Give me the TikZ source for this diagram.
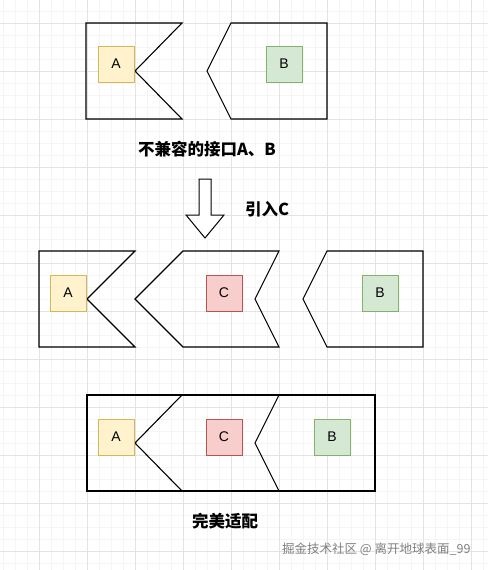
\documentclass[tikz,border=0pt]{standalone}
\usepackage{fontspec}
\setmainfont{Liberation Sans}
\newfontfamily\cjk{Noto Sans CJK SC}
\begin{document}
\begin{tikzpicture}[x=1pt,y=-1pt,
  shapeline/.style={draw=black,line width=1.1pt,line join=miter},
  sq/.style={minimum width=36pt,minimum height=36pt,inner sep=0pt,line width=0.9pt,font=\fontsize{14}{14}\selectfont},
  boxA/.style={sq,fill={rgb,255:red,255;green,242;blue,204},draw={rgb,255:red,214;green,182;blue,86}},
  boxB/.style={sq,fill={rgb,255:red,213;green,232;blue,212},draw={rgb,255:red,130;green,179;blue,102}},
  boxC/.style={sq,fill={rgb,255:red,248;green,206;blue,204},draw={rgb,255:red,184;green,84;blue,80}},
  title/.style={font=\cjk\bfseries\fontsize{16.5}{16.5}\selectfont},
  mark99/.style={font=\cjk\fontsize{12.5}{12.5}\selectfont,text={rgb,255:red,128;green,128;blue,128}}]
\useasboundingbox (0,0) rectangle (488,570);
\fill[white] (0,0) rectangle (488,570);
% grid
\foreach \x in {3,15,...,488} \draw[line width=0.5pt,color=black!4] (\x,0) -- (\x,570);
\foreach \y in {11,23,...,570} \draw[line width=0.5pt,color=black!4] (0,\y) -- (488,\y);
\foreach \x in {39,87,...,488} \draw[line width=0.8pt,color=black!11] (\x,0) -- (\x,570);
\foreach \y in {23,71,...,570} \draw[line width=0.8pt,color=black!11] (0,\y) -- (488,\y);

% top row
\draw[shapeline] (86,23) -- (182,23) -- (135,71) -- (182,119) -- (86,119) -- cycle;
\draw[shapeline] (231,23) -- (327,23) -- (327,119) -- (231,119) -- (207,71) -- cycle;
\node[boxA] (a1) at (116,64) {A};
\node[boxB] (b1) at (284,64) {B};
\node[title] (t1) at (207,149) {不兼容的接口A、B};

% arrow
\draw[line width=1pt,fill=white] (199,179) -- (211,179) -- (211,215) -- (224,215) -- (205,238) -- (186,215) -- (199,215) -- cycle;
\node[title] (t2) at (267,209) {引入C};

% middle row
\draw[shapeline] (39,251) -- (135,251) -- (87,299) -- (135,347) -- (39,347) -- cycle;
\draw[shapeline] (135,299) -- (183,251) -- (279,251) -- (255,299) -- (279,347) -- (183,347) -- cycle;
\draw[shapeline] (327,251) -- (423,251) -- (423,347) -- (327,347) -- (303,299) -- cycle;
\node[boxA] (a2) at (68,293) {A};
\node[boxC] (c2) at (224,293) {C};
\node[boxB] (b2) at (380,293) {B};

% bottom row
\draw[shapeline] (87,395) rectangle (375,491);
\draw[shapeline] (182,395) -- (135,443) -- (182,491);
\draw[shapeline] (279,395) -- (255,443) -- (279,491);
\node[boxA] (a3) at (116,437) {A};
\node[boxC] (c3) at (224,437) {C};
\node[boxB] (b3) at (332,437) {B};
\node[title] (t3) at (225,521) {完美适配};

\node[mark99,anchor=east] (wm) at (474,549) {掘金技术社区 @ 离开地球表面\_99};
\end{tikzpicture}
\end{document}
